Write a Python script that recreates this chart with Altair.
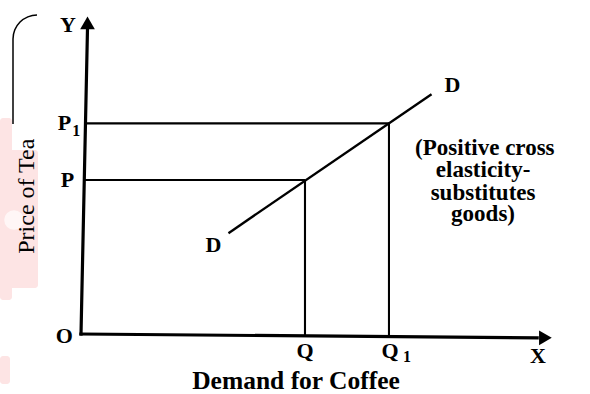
import math
import altair as alt
import pandas as pd

# Diagram quantities (arbitrary units)
q, q1 = 60, 82.5            # coffee demanded at price P and at price P1
p, p1 = 40, 54.7            # prices of tea
demand_x = [39.5, 93.9]     # ends of the DD line
demand_y = [26.2, 62.3]
y_axis_top = [1.74, 79.4]   # the scanned axes lean slightly
x_axis_end = [122.2, -1.0]

block_lines = ["(Positive cross", "elasticity-", "substitutes", "goods)"]

FONT = "Liberation Serif"
xs = alt.Scale(domain=[-21.70, 136.35], nice=False, zero=False)
ys = alt.Scale(domain=[-15.58, 86.75], nice=False, zero=False)


def xy(df):
    return alt.Chart(df).encode(
        x=alt.X("x:Q", scale=xs, axis=None),
        y=alt.Y("y:Q", scale=ys, axis=None),
    )


def segs(df, width, cap="butt"):
    return xy(df).mark_rule(color="black", strokeWidth=width, strokeCap=cap).encode(
        x2="x2:Q", y2="y2:Q"
    )


# faint watermark and page frame along the left edge (pixel space)
wm = pd.DataFrame({
    "x": [0, 0, 0], "x2": [12, 38, 10],
    "y": [118, 150, 356], "y2": [300, 288, 384],
})
watermark = alt.Chart(wm).mark_rect(color="#fde4e4", cornerRadius=3).encode(
    x=alt.X("x:Q", scale=None), x2="x2:Q",
    y=alt.Y("y:Q", scale=None), y2="y2:Q",
)
hole = alt.Chart(pd.DataFrame({"x": [14], "y": [220]})).mark_point(
    shape="circle", filled=True, color="#fff6f6", size=380, opacity=1
).encode(x=alt.X("x:Q", scale=None), y=alt.Y("y:Q", scale=None))

frame_line = alt.Chart(pd.DataFrame({"x": [13], "y": [39], "y2": [124]})).mark_rule(
    color="black", strokeWidth=1.5
).encode(x=alt.X("x:Q", scale=None), y=alt.Y("y:Q", scale=None), y2="y2:Q")
frame_arc = alt.Chart(pd.DataFrame({"x": [37], "y": [39]})).mark_arc(
    color="black", radius=24.75, radius2=23.25,
    theta=1.5 * math.pi, theta2=2 * math.pi,
).encode(x=alt.X("x:Q", scale=None), y=alt.Y("y:Q", scale=None))

# axes
axes = pd.DataFrame({
    "x": [0, 0], "y": [0, 0],
    "x2": [y_axis_top[0], x_axis_end[0]], "y2": [y_axis_top[1], x_axis_end[1]],
})
y_arrow = xy(pd.DataFrame({"x": [y_axis_top[0]], "y": [y_axis_top[1] + 1.4]})).mark_point(
    shape="triangle-up", filled=True, color="black", size=215, opacity=1
)
x_arrow = xy(pd.DataFrame({"x": [x_axis_end[0] + 2.2], "y": [x_axis_end[1]]})).mark_point(
    shape="triangle-right", filled=True, color="black", size=215, opacity=1
)

# guide lines from the two price levels to the quantities
guides = pd.DataFrame({
    "x": [0.9, 1.2, q, q1],
    "y": [p, p1, p, p1],
    "x2": [q, q1, q, q1],
    "y2": [p, p1, -0.5, -0.7],
})
demand = pd.DataFrame({
    "x": [demand_x[0]], "y": [demand_y[0]],
    "x2": [demand_x[1]], "y2": [demand_y[1]],
})

# letter labels
letters = pd.DataFrame({
    "t": ["Y", "P", "P", "O", "Q", "Q", "X", "D", "D"],
    "x": [-3.5, -4.4, -3.6, -4.5, q, q1 + 0.3, 122.4, 35.5, 99.5],
    "y": [80.3, p1, p, -0.4, -4.3, -4.3, -5.8, 23.0, 64.8],
})
subs = pd.DataFrame({"t": ["1", "1"], "x": [-1.3, q1 + 4.8], "y": [p1 - 2.0, -6.0]})


def label(df, size, weight="bold", **kw):
    return xy(df).mark_text(
        font=FONT, fontSize=size, fontWeight=weight, color="black", **kw
    ).encode(text="t:N")


letter_layer = label(letters, 22, align="center", baseline="middle")
sub_layer = label(subs, 16, align="center", baseline="middle")

block_first = label(
    pd.DataFrame({"t": [block_lines[0]], "x": [89.5], "y": [46.5]}),
    23, align="left", baseline="alphabetic",
)
block_rest = label(
    pd.DataFrame({"t": block_lines[1:], "x": [107.7] * 3, "y": [40.8, 34.8, 29.35]}),
    23, align="center", baseline="alphabetic",
)

x_title = label(
    pd.DataFrame({"t": ["Demand for Coffee"], "x": [57.6], "y": [-14.3]}),
    25.5, align="center", baseline="alphabetic",
)
y_title = label(
    pd.DataFrame({"t": ["Price of Tea"], "x": [-14.5], "y": [35.8]}),
    24, weight="normal", align="center", baseline="middle", angle=270,
)

chart = alt.layer(
    watermark, hole, frame_line, frame_arc,
    segs(guides, 2.1),
    segs(demand, 2.4),
    segs(axes, 3.2, cap="square"),
    y_arrow, x_arrow,
    letter_layer, sub_layer, block_first, block_rest, x_title, y_title,
).properties(
    width=590, height=394, padding=0, autosize=alt.AutoSizeParams(type="none"),
    background="white",
).configure_view(stroke=None)

chart.save("out.html", embed_options={"renderer": "svg", "actions": False})
